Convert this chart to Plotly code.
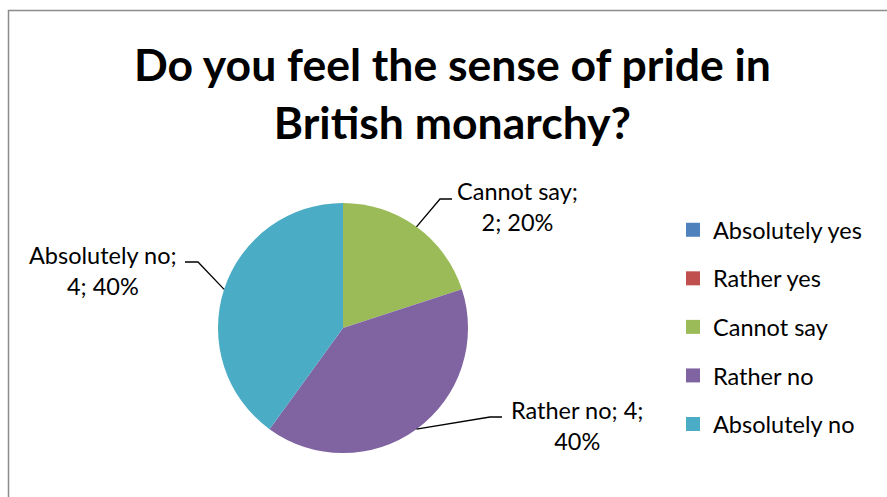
import math
import plotly.graph_objects as go

# Survey answers
categories = ["Absolutely yes", "Rather yes", "Cannot say", "Rather no", "Absolutely no"]
counts = [0, 0, 2, 4, 4]
colors = ["#4F81BD", "#C0504D", "#9BBB59", "#8064A2", "#4BACC6"]

W, H = 887, 497
FONT = "Lato"

# pie placement in pixels
CX, CY, R = 343, 328, 125


def px(x):
    return x / W


def py(y):
    return 1 - y / H


fig = go.Figure()

fig.add_trace(go.Pie(
    labels=categories,
    values=counts,
    marker=dict(colors=colors, line=dict(width=0)),
    sort=False,
    direction="clockwise",
    rotation=0,
    textinfo="none",
    hoverinfo="label+value+percent",
    showlegend=False,
    domain=dict(x=[px(CX - R), px(CX + R)], y=[py(CY + R), py(CY - R)]),
))

# legend entries, one group each so the gap between them can be set
for name, col in zip(categories, colors):
    fig.add_trace(go.Scatter(
        x=[None], y=[None], mode="markers", name=name,
        legendgroup=name,
        marker=dict(symbol="square", size=14, color=col),
    ))

# outside labels with leader lines: elbow point, horizontal end, text anchor
label_layout = {
    "Cannot say": dict(elbow=(440, 199), end=(452, 199), text=(517, 207)),
    "Rather no": dict(elbow=(490, 417), end=(502, 417), text=(577, 425)),
    "Absolutely no": dict(elbow=(198, 262), end=(185, 262), text=(103, 270)),
}

total = sum(counts)
cum = 0
annotations = []
shapes = []
for name, v in zip(categories, counts):
    start = cum
    cum += v
    if v == 0:
        continue
    mid = (start + v / 2) / total * 2 * math.pi
    ex = CX + R * math.sin(mid)
    ey = CY - R * math.cos(mid)
    lay = label_layout[name]
    (bx, by), (fx, fy) = lay["elbow"], lay["end"]
    shapes.append(dict(
        type="path", xref="paper", yref="paper",
        path=f"M {px(ex)},{py(ey)} L {px(bx)},{py(by)} L {px(fx)},{py(fy)}",
        line=dict(color="black", width=1.3),
    ))
    pct = round(v / total * 100)
    if name == "Rather no":
        txt = f"{name}; {v};<br>{pct}%"
    else:
        txt = f"{name};<br>{v}; {pct}%"
    tx, ty = lay["text"]
    annotations.append(dict(
        x=px(tx), y=py(ty), xref="paper", yref="paper",
        text=txt, showarrow=False, align="center",
        xanchor="center", yanchor="middle",
        font=dict(family=FONT, size=23.5, color="black"),
    ))

# title
annotations.append(dict(
    x=px(452), y=py(92), xref="paper", yref="paper",
    text="<b>Do you feel the sense of pride in<br>British monarchy?</b>",
    showarrow=False, align="center", xanchor="center", yanchor="middle",
    font=dict(family=FONT, size=44.5, color="black"),
))

# chart frame
shapes.append(dict(
    type="rect", xref="paper", yref="paper",
    x0=px(8.5), y0=py(10.5), x1=px(W + 5), y1=py(H + 5),
    line=dict(color="#8C8C8C", width=1.5), fillcolor="rgba(0,0,0,0)",
))

fig.update_layout(
    width=W, height=H,
    margin=dict(l=0, r=0, t=0, b=0),
    paper_bgcolor="white", plot_bgcolor="white",
    xaxis=dict(visible=False), yaxis=dict(visible=False),
    showlegend=True,
    legend=dict(
        x=px(673), y=py(208), xanchor="left", yanchor="top",
        font=dict(family=FONT, size=23.5, color="black"),
        tracegroupgap=15, itemclick=False,
    ),
    annotations=annotations,
    shapes=shapes,
)

fig.write_html("out.html")
